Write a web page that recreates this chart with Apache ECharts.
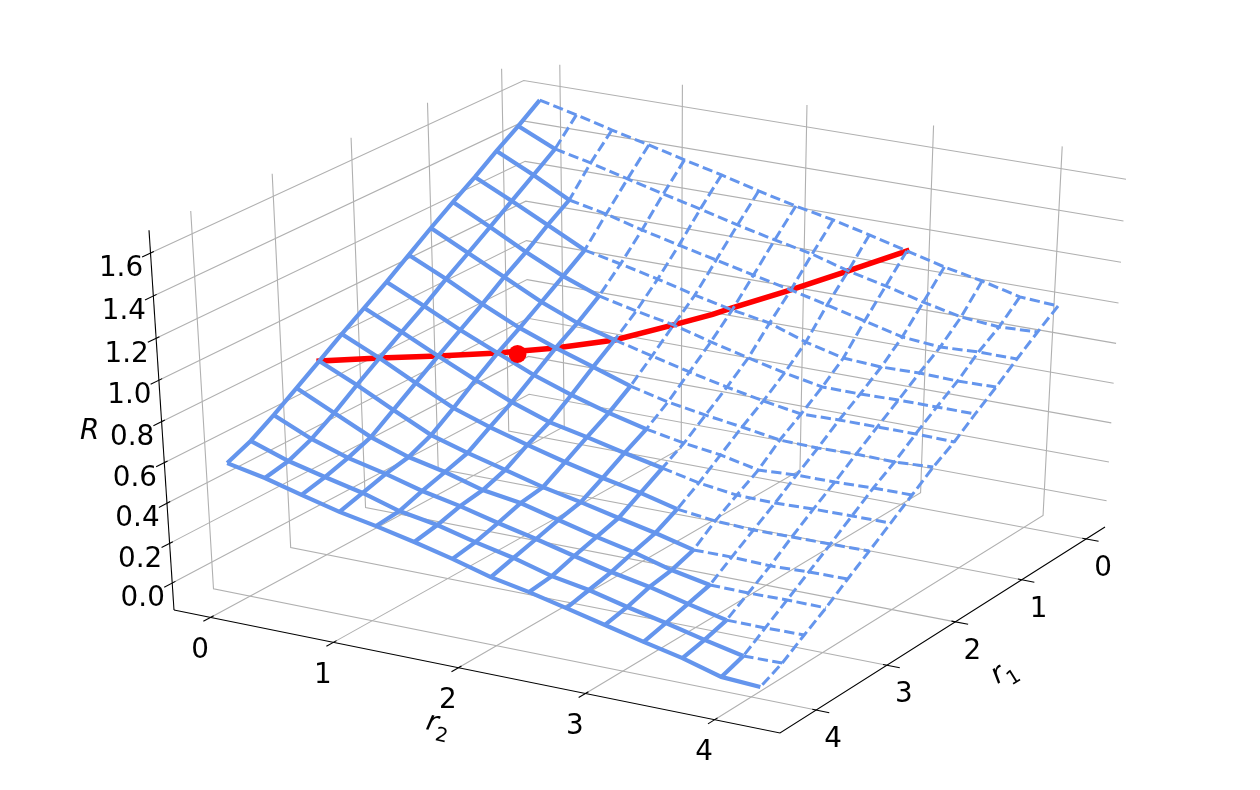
<!DOCTYPE html>
<html><head><meta charset="utf-8"><style>html,body{margin:0;padding:0;background:#fff}#c{width:1260px;height:790px}</style>
<script src="https://cdn.jsdelivr.net/npm/echarts@6/dist/echarts.min.js"></script></head>
<body><div id="c"></div><script>
const r1Values=[0,0.3,0.6,0.9,1.2,1.5,1.8,2.1,2.4,2.7,3.0,3.3,3.6,3.9,4.2];
const r2Values=[0.01,0.31,0.6,0.9,1.19,1.49,1.79,2.09,2.39,2.68,2.98,3.28,3.58,3.88,4.18];
const r1Ticks=[0,1,2,3,4], r2Ticks=[0,1,2,3,4], RTicks=[0,0.2,0.4,0.6,0.8,1.0,1.2,1.4,1.6];
const surfaceR=[
[1.584,1.541,1.496,1.453,1.409,1.366,1.318,1.275,1.238,1.195,1.148,1.101,1.064,1.018,1.006],
[1.507,1.425,1.386,1.338,1.294,1.251,1.204,1.162,1.124,1.072,1.030,0.983,0.942,0.926,0.934],
[1.436,1.349,1.256,1.218,1.170,1.127,1.085,1.043,1.002,0.959,0.913,0.867,0.850,0.859,0.858],
[1.360,1.274,1.186,1.094,1.056,1.014,0.967,0.926,0.894,0.832,0.786,0.775,0.779,0.773,0.777],
[1.290,1.199,1.107,1.020,0.953,0.911,0.875,0.824,0.778,0.736,0.700,0.699,0.703,0.703,0.703],
[1.216,1.125,1.038,0.947,0.875,0.824,0.778,0.732,0.691,0.655,0.624,0.629,0.629,0.629,0.624],
[1.138,1.052,0.960,0.875,0.808,0.747,0.686,0.641,0.610,0.584,0.554,0.549,0.554,0.550,0.560],
[1.060,0.974,0.888,0.808,0.731,0.666,0.611,0.565,0.530,0.505,0.465,0.475,0.476,0.482,0.483],
[0.988,0.903,0.816,0.732,0.655,0.590,0.550,0.506,0.466,0.426,0.401,0.397,0.403,0.405,0.406],
[0.916,0.831,0.741,0.651,0.590,0.536,0.486,0.442,0.403,0.357,0.334,0.325,0.327,0.328,0.330],
[0.840,0.756,0.666,0.576,0.521,0.472,0.422,0.383,0.340,0.300,0.252,0.253,0.246,0.253,0.255],
[0.765,0.677,0.591,0.527,0.487,0.433,0.404,0.356,0.308,0.268,0.215,0.178,0.175,0.178,0.176],
[0.691,0.608,0.548,0.504,0.454,0.415,0.367,0.324,0.276,0.232,0.195,0.148,0.105,0.104,0.107],
[0.623,0.559,0.514,0.471,0.416,0.383,0.335,0.293,0.240,0.207,0.160,0.118,0.072,0.030,0.034],
[0.574,0.536,0.487,0.439,0.404,0.362,0.315,0.262,0.225,0.182,0.136,0.090,0.048,-0.007,-0.018]];
const redR1=[3.0,2.7,2.4,2.1,1.8,1.5,1.2,1.0,0.9,0.6,0.3,0];
const redR2=[0.01,0.31,0.6,0.9,1.19,1.49,1.79,1.99,2.09,2.39,2.68,2.98];
const redR=[0.840,0.831,0.816,0.808,0.808,0.824,0.875,0.912,0.936,1.002,1.072,1.148];
const pointR1=[2], pointR2=[1], pointR=[0.795];

// camera: maps (r1,r2,R) to the plot plane
const lo=-0.3,hi=4.5,zmin=-0.137,zmax=1.706;
const p0=[529.5,420],p1=[1105,527],p2=[780,733],p3=[174,610],VP=[657,7950];
const dx1=p1[0]-p2[0],dx2=p3[0]-p2[0],dx3=p0[0]-p1[0]+p2[0]-p3[0];
const dy1=p1[1]-p2[1],dy2=p3[1]-p2[1],dy3=p0[1]-p1[1]+p2[1]-p3[1];
const den=dx1*dy2-dx2*dy1,g=(dx3*dy2-dx2*dy3)/den,h=(dx1*dy3-dx3*dy1)/den;
const A=p1[0]-p0[0]+g*p1[0],B=p3[0]-p0[0]+h*p3[0],C=p0[0],D=p1[1]-p0[1]+g*p1[1],E=p3[1]-p0[1]+h*p3[1],F=p0[1];
const zt=-0.0492*(h+1);
function proj(r1,r2,R){const u=(r2-lo)/(hi-lo),v=(r1-lo)/(hi-lo),w=(R-zmin)/(zmax-zmin);
 const X=A*u+B*v+C,Yy=D*u+E*v+F,T=g*u+h*v+1;
 const t=T+w*zt;return [(X+w*zt*VP[0])/t,(Yy+w*zt*VP[1])/t];}

const series=[];
function line(pts,color,width,type,z,cap){series.push({type:'line',data:pts,showSymbol:false,symbol:'none',silent:true,animation:false,z:z,clip:false,
 lineStyle:{color:color,width:width,type:type||'solid',cap:cap||'butt',join:'miter'}});}
const GR='#b0b0b0',AX='#000';
r2Ticks.forEach(t=>line([proj(hi,t,zmin),proj(lo,t,zmin),proj(lo,t,zmax)],GR,1.1,'solid',1));
r1Ticks.forEach(t=>line([proj(t,hi,zmin),proj(t,lo,zmin),proj(t,lo,zmax)],GR,1.1,'solid',1));
RTicks.forEach(t=>line([proj(hi,lo,t),proj(lo,lo,t),proj(lo,hi,t)],GR,1.1,'solid',1));
line([proj(hi,lo,zmin),proj(hi,hi,zmin),proj(lo,hi,zmin)],AX,1.1,'solid',2);
line([proj(hi,lo,zmin),proj(hi,lo,zmax)],AX,1.1,'solid',2);
r2Ticks.forEach(t=>line([proj(hi+0.09,t,zmin),proj(hi-0.04,t,zmin)],AX,1.1,'solid',2));
r1Ticks.forEach(t=>line([proj(t,hi+0.1,zmin),proj(t,hi-0.03,zmin)],AX,1.1,'solid',2));
RTicks.forEach(t=>line([proj(hi+0.1,lo,t),proj(hi-0.04,lo,t)],AX,1.1,'solid',2));
line(redR.map((v,k)=>proj(redR1[k],redR2[k],v)),'#ff0000',5.5,'solid',3,'square');
const BL='#6495ED',n=r1Values.length;
for(let i=0;i<n;i++){
 const row=r2Values.map((v,j)=>proj(r1Values[i],v,surfaceR[i][j]));
 if(i>0)line(row.slice(0,i+1),BL,4.2,'solid',5);
 if(i<n-1)line(row.slice(i),BL,3,[10.3,4.4],4);
 const col=r1Values.map((v,k)=>proj(v,r2Values[i],surfaceR[k][i]));
 if(i<n-1)line(col.slice(i),BL,4.2,'solid',5);
 if(i>0)line(col.slice(0,i+1),BL,3,[10.3,4.4],4);
}
series.push({type:'scatter',data:pointR.map((v,k)=>proj(pointR1[k],pointR2[k],v)),symbolSize:18,itemStyle:{color:'#ff0000',opacity:1},silent:true,animation:false,z:6});
function labels(items){series.push({type:'scatter',symbolSize:0,silent:true,animation:false,z:7,itemStyle:{opacity:1},data:items.map(it=>({value:it.p,label:{show:true,position:'inside',formatter:it.t,rotate:it.rot||0,
 fontFamily:'DejaVu Sans',fontSize:27.8,color:'#000',fontStyle:it.it?'italic':'normal',align:'center',verticalAlign:'middle',
 rich:{a:{fontFamily:'DejaVu Sans',fontSize:27.8,fontStyle:'italic',color:'#000',padding:[0,0,7,0],verticalAlign:'bottom'},b:{fontFamily:'DejaVu Sans',fontSize:19.5,color:'#000',verticalAlign:'bottom'}}}}))});}
const off=(p,dx,dy)=>[p[0]+dx,p[1]+dy];
labels([
 ...r2Ticks.map(t=>({p:off(proj(hi,t,zmin),-10.5,33),t:String(t)})),
 ...r1Ticks.map(t=>({p:off(proj(t,hi,zmin),17,30),t:String(t)})),
 ...RTicks.map(t=>({p:off(proj(hi,lo,t),-29.5,16),t:t.toFixed(1)})),
 {p:off(proj(hi,2,zmin),-21,60),t:'{a|r}{b|2}',rot:-12},
 {p:off(proj(2,hi,zmin),50,53),t:'{a|r}{b|1}',rot:32},
 {p:off(proj(hi,lo,0.8),-72,10),t:'R',it:true}
]);
const chart=echarts.init(document.getElementById('c'),null,{renderer:'canvas'});
chart.setOption({animation:false,backgroundColor:'#fff',grid:{left:0,right:0,top:0,bottom:0,containLabel:false},
 xAxis:{type:'value',min:0,max:1260,show:false},yAxis:{type:'value',min:0,max:790,inverse:true,show:false},series});
</script></body></html>
